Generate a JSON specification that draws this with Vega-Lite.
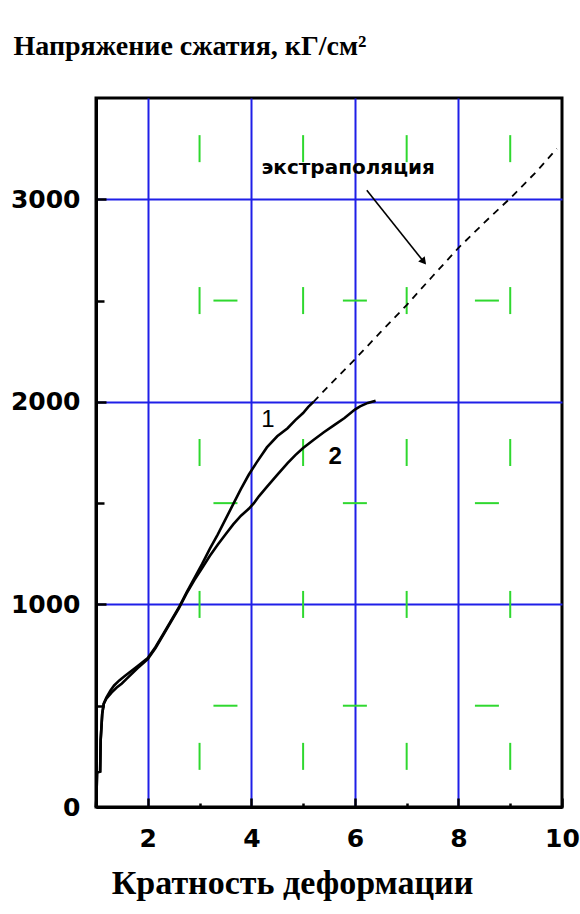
{
  "$schema": "https://vega.github.io/schema/vega-lite/v6.json",
  "autosize": "none",
  "width": 466,
  "height": 709,
  "padding": {"left": 96, "top": 98, "right": 18, "bottom": 107},
  "background": "white",
  "config": {
    "view": {"stroke": "black", "strokeWidth": 3},
    "axis": {"domainColor": "black", "domainWidth": 3, "tickColor": "black", "tickWidth": 2.5, "labelColor": "black", "titleColor": "black"}
  },
  "datasets": {
    "curves": [
      {"series": "1", "x": 1.0, "y": 0}, {"series": "1", "x": 1.01, "y": 60}, {"series": "1", "x": 1.02, "y": 170},
      {"series": "1", "x": 1.08, "y": 175}, {"series": "1", "x": 1.09, "y": 330}, {"series": "1", "x": 1.12, "y": 460},
      {"series": "1", "x": 1.15, "y": 510}, {"series": "1", "x": 1.2, "y": 540}, {"series": "1", "x": 1.28, "y": 575},
      {"series": "1", "x": 1.35, "y": 600}, {"series": "1", "x": 1.45, "y": 625}, {"series": "1", "x": 1.55, "y": 645},
      {"series": "1", "x": 1.65, "y": 665}, {"series": "1", "x": 1.8, "y": 695}, {"series": "1", "x": 2.0, "y": 735},
      {"series": "1", "x": 2.15, "y": 790}, {"series": "1", "x": 2.3, "y": 855}, {"series": "1", "x": 2.45, "y": 920},
      {"series": "1", "x": 2.6, "y": 985}, {"series": "1", "x": 2.75, "y": 1060}, {"series": "1", "x": 2.9, "y": 1130},
      {"series": "1", "x": 3.05, "y": 1200}, {"series": "1", "x": 3.2, "y": 1275}, {"series": "1", "x": 3.35, "y": 1345},
      {"series": "1", "x": 3.5, "y": 1420}, {"series": "1", "x": 3.65, "y": 1495}, {"series": "1", "x": 3.8, "y": 1570},
      {"series": "1", "x": 3.95, "y": 1640}, {"series": "1", "x": 4.1, "y": 1700}, {"series": "1", "x": 4.3, "y": 1775},
      {"series": "1", "x": 4.5, "y": 1830}, {"series": "1", "x": 4.7, "y": 1870}, {"series": "1", "x": 4.85, "y": 1910},
      {"series": "1", "x": 5.0, "y": 1945}, {"series": "1", "x": 5.1, "y": 1975}, {"series": "1", "x": 5.2, "y": 2000},
      {"series": "2", "x": 1.0, "y": 0}, {"series": "2", "x": 1.01, "y": 60}, {"series": "2", "x": 1.02, "y": 170},
      {"series": "2", "x": 1.08, "y": 175}, {"series": "2", "x": 1.09, "y": 330}, {"series": "2", "x": 1.12, "y": 460},
      {"series": "2", "x": 1.15, "y": 510}, {"series": "2", "x": 1.2, "y": 535}, {"series": "2", "x": 1.3, "y": 565},
      {"series": "2", "x": 1.4, "y": 590}, {"series": "2", "x": 1.5, "y": 610}, {"series": "2", "x": 1.6, "y": 635},
      {"series": "2", "x": 1.8, "y": 685}, {"series": "2", "x": 2.0, "y": 730}, {"series": "2", "x": 2.15, "y": 785},
      {"series": "2", "x": 2.3, "y": 850}, {"series": "2", "x": 2.45, "y": 915}, {"series": "2", "x": 2.6, "y": 980},
      {"series": "2", "x": 2.75, "y": 1055}, {"series": "2", "x": 2.9, "y": 1120}, {"series": "2", "x": 3.05, "y": 1180},
      {"series": "2", "x": 3.2, "y": 1240}, {"series": "2", "x": 3.35, "y": 1295}, {"series": "2", "x": 3.5, "y": 1345},
      {"series": "2", "x": 3.65, "y": 1395}, {"series": "2", "x": 3.8, "y": 1438}, {"series": "2", "x": 3.95, "y": 1472},
      {"series": "2", "x": 4.05, "y": 1500}, {"series": "2", "x": 4.15, "y": 1535}, {"series": "2", "x": 4.3, "y": 1580},
      {"series": "2", "x": 4.5, "y": 1640}, {"series": "2", "x": 4.7, "y": 1698}, {"series": "2", "x": 4.85, "y": 1737},
      {"series": "2", "x": 5.0, "y": 1772}, {"series": "2", "x": 5.2, "y": 1812}, {"series": "2", "x": 5.4, "y": 1850},
      {"series": "2", "x": 5.6, "y": 1885}, {"series": "2", "x": 5.8, "y": 1920}, {"series": "2", "x": 6.0, "y": 1962},
      {"series": "2", "x": 6.1, "y": 1978}, {"series": "2", "x": 6.25, "y": 1995}, {"series": "2", "x": 6.4, "y": 2005}
    ],
    "extrapolation": [
      {"x": 5.2, "y": 2000}, {"x": 5.5, "y": 2080}, {"x": 6.0, "y": 2210}, {"x": 6.5, "y": 2345},
      {"x": 7.0, "y": 2478}, {"x": 7.5, "y": 2620}, {"x": 8.0, "y": 2760}, {"x": 8.5, "y": 2885},
      {"x": 9.0, "y": 3005}, {"x": 9.5, "y": 3135}, {"x": 9.9, "y": 3250}
    ],
    "greenVertical": [
      {"x": 3, "y": 3250}, {"x": 5, "y": 3250}, {"x": 7, "y": 3250}, {"x": 9, "y": 3250},
      {"x": 3, "y": 2500}, {"x": 5, "y": 2500}, {"x": 7, "y": 2500}, {"x": 9, "y": 2500},
      {"x": 3, "y": 1750}, {"x": 5, "y": 1750}, {"x": 7, "y": 1750}, {"x": 9, "y": 1750},
      {"x": 3, "y": 1000}, {"x": 5, "y": 1000}, {"x": 7, "y": 1000}, {"x": 9, "y": 1000},
      {"x": 3, "y": 250}, {"x": 5, "y": 250}, {"x": 7, "y": 250}, {"x": 9, "y": 250}
    ],
    "greenHorizontal": [
      {"x": 3.5, "y": 2500}, {"x": 6.0, "y": 2500}, {"x": 8.55, "y": 2500},
      {"x": 3.5, "y": 1500}, {"x": 6.0, "y": 1500}, {"x": 8.55, "y": 1500},
      {"x": 3.5, "y": 500}, {"x": 6.0, "y": 500}, {"x": 8.55, "y": 500}
    ],
    "arrow": [{"x": 6.23, "y": 3045, "x2": 7.35, "y2": 2685}],
    "arrowHead": [{"x": 7.33, "y": 2692}],
    "curveLabelThin": [{"x": 4.32, "y": 1910, "text": "1"}],
    "curveLabelBold": [{"x": 5.62, "y": 1728, "text": "2"}],
    "note": [{"x": 5.87, "y": 3154, "text": "экстраполяция"}]
  },
  "encoding": {
    "x": {
      "field": "x", "type": "quantitative",
      "scale": {"domain": [1, 10], "nice": false, "zero": false},
      "axis": {
        "values": [2, 3, 4, 5, 6, 7, 8, 9, 10],
        "labelExpr": "datum.value % 2 == 0 ? datum.label : ''",
        "labelFont": "DejaVu Sans", "labelFontSize": 25, "labelFontWeight": "bold",
        "labelPadding": 28, "labelOverlap": false, "labelFlush": false, "labelBound": false,
        "tickSize": {"condition": {"test": "datum.value % 2 == 0", "value": -9}, "value": -4},
        "grid": true,
        "gridColor": {"condition": {"test": "datum.value % 2 == 0 && datum.value < 10", "value": "#1f1fe8"}, "value": "transparent"},
        "gridWidth": 2,
        "title": "Кратность деформации",
        "titleFont": "Liberation Serif", "titleFontSize": 34, "titleFontWeight": "bold",
        "titleAlign": "center", "titleBaseline": "alphabetic", "titleX": 196, "titleY": 86
      }
    },
    "y": {
      "field": "y", "type": "quantitative",
      "scale": {"domain": [0, 3500], "nice": false, "zero": true},
      "axis": {
        "values": [0, 500, 1000, 1500, 2000, 2500, 3000],
        "format": "d",
        "labelExpr": "datum.value % 1000 == 0 ? datum.label : ''",
        "labelFont": "DejaVu Sans", "labelFontSize": 25, "labelFontWeight": "bold",
        "labelPadding": 26, "labelOverlap": false, "labelFlush": false, "labelBound": false,
        "tickSize": {"condition": {"test": "datum.value % 1000 == 0", "value": -10}, "value": -8},
        "grid": true,
        "gridColor": {"condition": {"test": "datum.value % 1000 == 0 && datum.value > 0", "value": "#1f1fe8"}, "value": "transparent"},
        "gridWidth": 2,
        "title": "Напряжение сжатия, кГ/см²",
        "titleFont": "Liberation Serif", "titleFontSize": 28, "titleFontWeight": "bold",
        "titleAngle": 0, "titleAlign": "left", "titleBaseline": "alphabetic", "titleX": -83, "titleY": -44
      }
    }
  },
  "layer": [
    {
      "data": {"name": "greenVertical"},
      "mark": {"type": "tick", "orient": "vertical", "size": 27, "thickness": 2, "color": "#2fd82f", "opacity": 1}
    },
    {
      "data": {"name": "greenHorizontal"},
      "mark": {"type": "tick", "orient": "horizontal", "size": 24, "thickness": 2, "color": "#2fd82f", "opacity": 1}
    },
    {
      "data": {"name": "curves"},
      "mark": {"type": "line", "color": "black", "strokeWidth": 2.6, "interpolate": "linear"},
      "encoding": {"detail": {"field": "series"}}
    },
    {
      "data": {"name": "extrapolation"},
      "mark": {"type": "line", "color": "black", "strokeWidth": 1.8, "strokeDash": [7, 6]}
    },
    {
      "data": {"name": "arrow"},
      "mark": {"type": "rule", "color": "black", "strokeWidth": 1.6},
      "encoding": {"x2": {"field": "x2"}, "y2": {"field": "y2"}}
    },
    {
      "data": {"name": "arrowHead"},
      "mark": {"type": "point", "shape": "triangle-up", "angle": 141, "size": 70, "filled": true, "color": "black", "opacity": 1}
    },
    {
      "data": {"name": "curveLabelThin"},
      "mark": {"type": "text", "font": "Liberation Sans", "fontSize": 24, "fontWeight": "normal", "color": "black", "align": "center", "baseline": "middle"},
      "encoding": {"text": {"field": "text"}}
    },
    {
      "data": {"name": "curveLabelBold"},
      "mark": {"type": "text", "font": "Liberation Sans", "fontSize": 24, "fontWeight": "bold", "color": "black", "align": "center", "baseline": "middle"},
      "encoding": {"text": {"field": "text"}}
    },
    {
      "data": {"name": "note"},
      "mark": {"type": "text", "font": "DejaVu Sans", "fontSize": 20, "fontWeight": "bold", "color": "black", "align": "center", "baseline": "middle"},
      "encoding": {"text": {"field": "text"}}
    }
  ]
}
